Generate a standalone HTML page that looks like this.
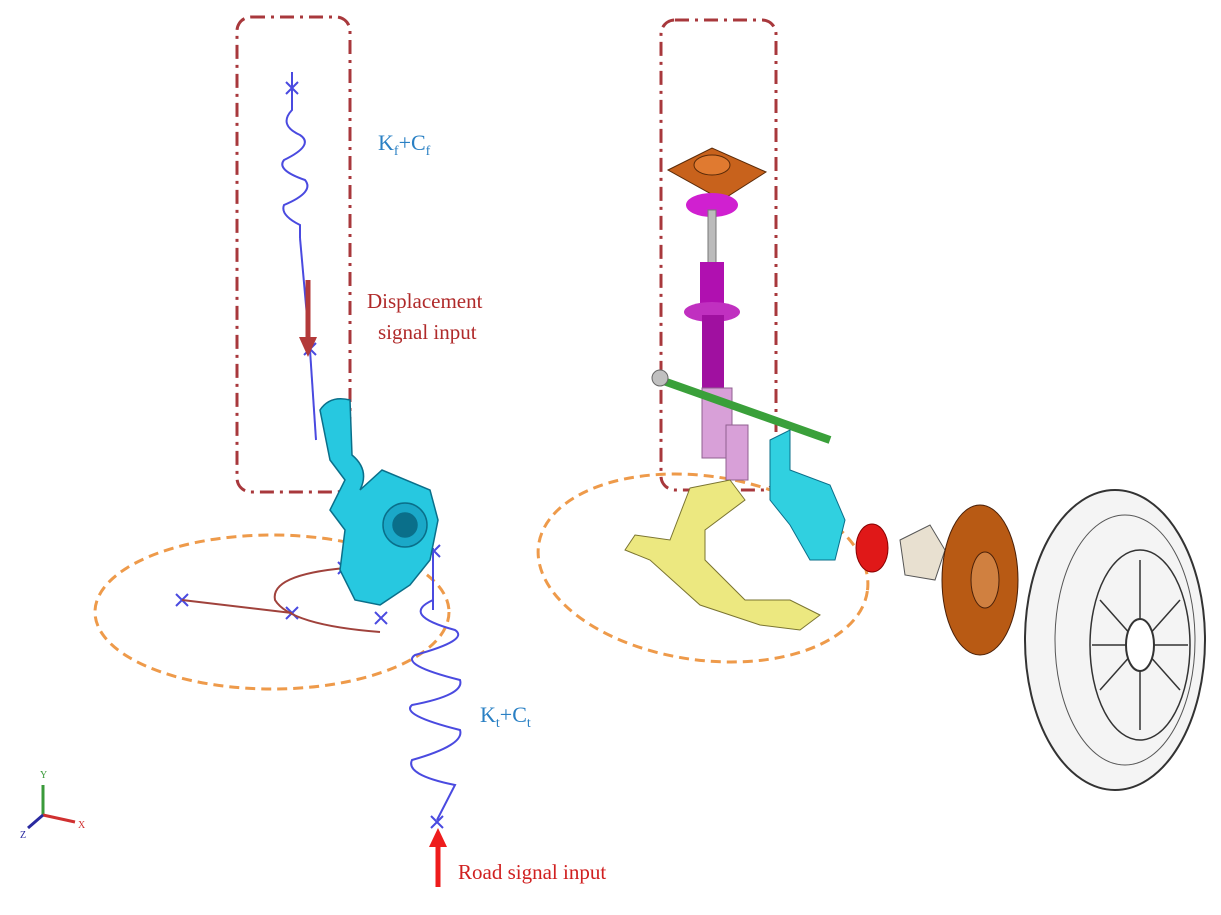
<!DOCTYPE html>
<html><head><meta charset="utf-8"><style>
html,body{margin:0;padding:0;background:#fff;}
svg{display:block}
text{font-family:"Liberation Serif",serif;}
</style></head><body>
<svg width="1221" height="915" viewBox="0 0 1221 915" xmlns="http://www.w3.org/2000/svg">
<!-- left dash-dot box -->
<rect x="237" y="17" width="113" height="475" rx="14" fill="none" stroke="#a8383c" stroke-width="3" stroke-dasharray="14,6,3,6"/>
<rect x="661" y="20" width="115" height="470" rx="14" fill="none" stroke="#a8383c" stroke-width="3" stroke-dasharray="14,6,3,6"/>
<!-- orange ellipses -->
<ellipse cx="272" cy="612" rx="177" ry="77" fill="none" stroke="#ee9a4a" stroke-width="3" stroke-dasharray="10,6"/>
<ellipse cx="703" cy="568" rx="166" ry="92" transform="rotate(8 703 568)" fill="none" stroke="#ee9a4a" stroke-width="3" stroke-dasharray="10,6"/>

<!-- upper spring -->
<g stroke="#4a4ae0" stroke-width="2" fill="none">
<line x1="292" y1="72" x2="292" y2="90"/>
<path d="M292 90 L292 110 Q278 125 300 135 Q315 145 284 160 Q276 170 305 180 Q315 192 284 205 Q280 215 300 225 L300 238"/>
<line x1="300" y1="238" x2="310" y2="350"/>
<line x1="310" y1="350" x2="316" y2="440"/>
<path d="M286 82 l12 12 M298 82 l-12 12 M304 343 l12 12 M316 343 l-12 12"/>
</g>
<!-- lower spring -->
<g stroke="#4a4ae0" stroke-width="2" fill="none">
<line x1="433" y1="548" x2="433" y2="610"/>
<path d="M433 600 Q400 615 455 630 Q470 640 415 655 Q400 665 460 680 Q465 695 412 705 Q400 715 460 730 Q465 745 412 760 Q405 775 455 785 L437 820"/>
<path d="M404 545 l12 12 M416 545 l-12 12 M428 545 l12 12 M440 545 l-12 12 M431 816 l12 12 M443 816 l-12 12"/>
<path d="M176 594 l12 12 M188 594 l-12 12 M286 607 l12 12 M298 607 l-12 12 M375 612 l12 12 M387 612 l-12 12 M338 562 l12 12 M350 562 l-12 12"/>
</g>
<!-- lower control links -->
<g stroke="#a0423c" stroke-width="2" fill="none">
<line x1="182" y1="600" x2="292" y2="613"/>
<path d="M345 568 Q270 575 275 600 Q290 625 380 632"/>
</g>
<!-- left knuckle -->
<g fill="#27c8e0" stroke="#0a6f8a" stroke-width="1.5">
<path d="M320 410 Q330 395 350 400 L352 455 Q370 470 360 490 L382 470 L430 490 L438 520 L430 560 L410 585 L380 605 L355 600 L340 570 L345 530 L330 510 L345 480 L330 460 Z"/>
<circle cx="405" cy="525" r="22" fill="#1aa8c8"/>
<circle cx="405" cy="525" r="12" fill="#0a6f8a"/>
</g>
<!-- arrows -->
<line x1="308" y1="280" x2="308" y2="340" stroke="#b33a3a" stroke-width="5"/>
<polygon points="299,337 317,337 308,357" fill="#b33a3a"/>
<line x1="438" y1="887" x2="438" y2="845" stroke="#ee1c1c" stroke-width="5"/>
<polygon points="429,847 447,847 438,828" fill="#ee1c1c"/>

<!-- texts -->
<text x="378" y="150" font-size="22" fill="#2a80c4">K<tspan font-size="14" dy="5">f</tspan><tspan dy="-5">+C</tspan><tspan font-size="14" dy="5">f</tspan></text>
<text x="367" y="308" font-size="21" fill="#b02a2a">Displacement</text>
<text x="378" y="339" font-size="21" fill="#b02a2a">signal input</text>
<text x="480" y="722" font-size="22" fill="#2a80c4">K<tspan font-size="14" dy="5">t</tspan><tspan dy="-5">+C</tspan><tspan font-size="14" dy="5">t</tspan></text>
<text x="458" y="879" font-size="21" fill="#d02020">Road signal input</text>

<!-- axis triad -->
<g stroke-width="3">
<line x1="43" y1="815" x2="43" y2="785" stroke="#3a9a3a"/>
<line x1="43" y1="815" x2="75" y2="822" stroke="#d03030"/>
<line x1="43" y1="815" x2="28" y2="828" stroke="#2a2aa0"/>
</g>
<text x="40" y="778" font-size="10" fill="#3a9a3a">Y</text>
<text x="78" y="828" font-size="10" fill="#d03030">X</text>
<text x="20" y="838" font-size="10" fill="#2a2aa0">Z</text>

<!-- right assembly: strut top -->
<polygon points="668,170 712,148 766,172 722,200" fill="#c8621c" stroke="#5a2a08"/>
<ellipse cx="712" cy="165" rx="18" ry="10" fill="#e07a30" stroke="#5a2a08"/>
<ellipse cx="712" cy="205" rx="26" ry="12" fill="#d020d0"/>
<rect x="708" y="210" width="8" height="55" fill="#bbb" stroke="#777"/>
<rect x="700" y="262" width="24" height="50" fill="#b010b0"/>
<ellipse cx="712" cy="312" rx="28" ry="10" fill="#c030c0"/>
<rect x="702" y="315" width="22" height="75" fill="#a010a0"/>
<rect x="702" y="388" width="30" height="70" fill="#d8a0d8" stroke="#906090"/>
<rect x="726" y="425" width="22" height="55" fill="#d8a0d8" stroke="#906090"/>
<!-- tie rod -->
<line x1="655" y1="378" x2="830" y2="440" stroke="#3aa03a" stroke-width="8"/>
<circle cx="660" cy="378" r="8" fill="#c0c0c0" stroke="#666"/>
<!-- right knuckle -->
<path d="M770 440 L790 430 L790 470 L830 485 L845 520 L835 560 L810 560 L790 525 L770 500 Z" fill="#30d0e0" stroke="#0a6f8a"/>
<!-- lower arm -->
<path d="M690 488 L730 480 L745 500 L705 530 L705 560 L745 600 L790 600 L820 615 L800 630 L760 625 L700 605 L650 560 L625 550 L635 535 L670 540 Z" fill="#ece880" stroke="#7a7430"/>
<!-- bearing -->
<ellipse cx="872" cy="548" rx="16" ry="24" fill="#e01818" stroke="#800"/>
<!-- hub -->
<path d="M900 540 L930 525 L945 550 L935 580 L905 575 Z" fill="#e8e0d0" stroke="#555"/>
<!-- disc -->
<ellipse cx="980" cy="580" rx="38" ry="75" fill="#b85a14" stroke="#4a2008"/>
<ellipse cx="985" cy="580" rx="14" ry="28" fill="#d08040" stroke="#4a2008"/>
<!-- tire -->
<ellipse cx="1115" cy="640" rx="90" ry="150" fill="#f4f4f4" stroke="#333" stroke-width="2"/>
<ellipse cx="1125" cy="640" rx="70" ry="125" fill="none" stroke="#555"/>
<ellipse cx="1140" cy="645" rx="50" ry="95" fill="none" stroke="#333" stroke-width="1.5"/>
<g stroke="#333" stroke-width="1.5">
<line x1="1140" y1="560" x2="1140" y2="730"/>
<line x1="1100" y1="600" x2="1180" y2="690"/>
<line x1="1100" y1="690" x2="1180" y2="600"/>
<line x1="1092" y1="645" x2="1188" y2="645"/>
</g>
<ellipse cx="1140" cy="645" rx="14" ry="26" fill="#fff" stroke="#333" stroke-width="2"/>
</svg>
</body></html>
